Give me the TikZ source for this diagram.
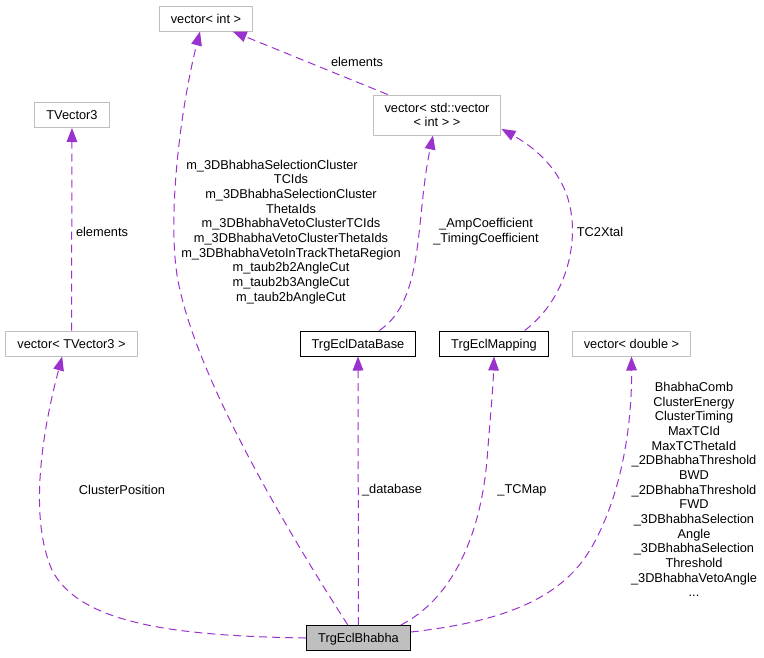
\documentclass[tikz,border=0pt]{standalone}
\usepackage{fontspec}
\setmainfont{Liberation Sans}
\usepackage{tikz}
\usetikzlibrary{arrows.meta,positioning}
\definecolor{orchid}{HTML}{9A32CD}
\definecolor{framegray}{HTML}{BFBFBF}
\definecolor{hilite}{HTML}{BFBFBF}
\tikzset{ext/.style={draw=framegray,line width=0.75pt,minimum height=18.75pt,inner xsep=8.6pt,inner ysep=2pt,text height=8pt,text depth=1.1pt,align=center,font=\fontsize{9.6}{11}\selectfont},cls/.style={ext,draw=black},main/.style={cls,fill=hilite},dep/.style={draw=orchid,line width=0.75pt,dash pattern=on 6pt off 3.75pt,-{Triangle[length=10.5pt,width=8pt]}},lab/.style={font=\fontsize{9.6}{11}\selectfont,align=center,inner sep=1pt}}

\begin{document}
\begin{tikzpicture}[x=0.75pt,y=-0.75pt]
\useasboundingbox (0,0) rectangle (764,657);
\node[main] (bhabha) at (358.5,638) {TrgEclBhabha};
\node[cls] (database) at (358,343.5) {TrgEclDataBase};
\node[cls] (mapping) at (494,343.5) {TrgEclMapping};
\node[ext] (vecTV3) at (71.5,343.5) {vector< TVector3 >};
\node[ext] (vecdouble) at (631.5,343.5) {vector< double >};
\node[ext] (tvec3) at (72,115) {TVector3};
\node[ext,minimum height=30pt,text height=,text depth=] (vecvec) at (437,115) {vector< std::vector\\< int > >};
\node[ext] (vecint) at (206,18.5) {vector< int >};
% edges from the using class to the used type
\draw[dep] ([xshift=-8pt]bhabha.north) .. controls (280,520) and (200,380) .. (180,290) .. controls (165,230) and (180,110) .. ([xshift=-4.5pt]vecint.south);
\draw[dep] ([xshift=-37pt]vecvec.north) -- ([xshift=20pt]vecint.south);
\draw[dep] (vecTV3) -- (tvec3);
\draw[dep] (bhabha.west) .. controls (180,636) and (80,625) .. (52,570) .. controls (30,520) and (40,440) .. ([xshift=-7pt]vecTV3.south);
\draw[dep] (bhabha) -- (database);
\draw[dep] ([xshift=16pt]database.north) .. controls (425,300) and (415,220) .. ([xshift=-3pt]vecvec.south);
\draw[dep] ([xshift=23pt]mapping.north) .. controls (565,300) and (575,250) .. (572,220) .. controls (568,170) and (530,145) .. ([yshift=5pt]vecvec.south east);
\draw[dep] ([xshift=-7.5pt]bhabha.north east) .. controls (450,600) and (480,540) .. (487,460) .. controls (490,420) and (493,390) .. (mapping.south);
\draw[dep] ([yshift=4.5pt]bhabha.east) .. controls (500,622) and (560,600) .. (590,550) .. controls (620,500) and (632,430) .. (vecdouble.south);
% labels
\node[lab] (lblint) at (291,232) {m\_3DBhabhaSelectionCluster\hspace*{28.5pt}\\TCIds\\m\_3DBhabhaSelectionCluster\hspace*{28.5pt}\\ThetaIds\\m\_3DBhabhaVetoClusterTCIds\\m\_3DBhabhaVetoClusterThetaIds\\m\_3DBhabhaVetoInTrackThetaRegion\\m\_taub2b2AngleCut\\m\_taub2b3AngleCut\\m\_taub2bAngleCut};
\node[lab] (lblelem) at (357,62) {elements};
\node[lab] (lblelemtv) at (102,232) {elements};
\node[lab] (lblpos) at (122,490) {ClusterPosition};
\node[lab] (lbldb) at (392,490) {\_database};
\node[lab] (lblcoef) at (486,232) {\_AmpCoefficient\\\_TimingCoefficient};
\node[lab] (lblxtal) at (600,232) {TC2Xtal};
\node[lab] (lblmap) at (522,490) {\_TCMap};
\node[lab] (lbldbl) at (694,489.5) {BhabhaComb\\ClusterEnergy\\ClusterTiming\\MaxTCId\\MaxTCThetaId\\\_2DBhabhaThreshold\\BWD\\\_2DBhabhaThreshold\\FWD\\\_3DBhabhaSelection\\Angle\\\_3DBhabhaSelection\\Threshold\\\_3DBhabhaVetoAngle\\...};
\end{tikzpicture}
\end{document}
